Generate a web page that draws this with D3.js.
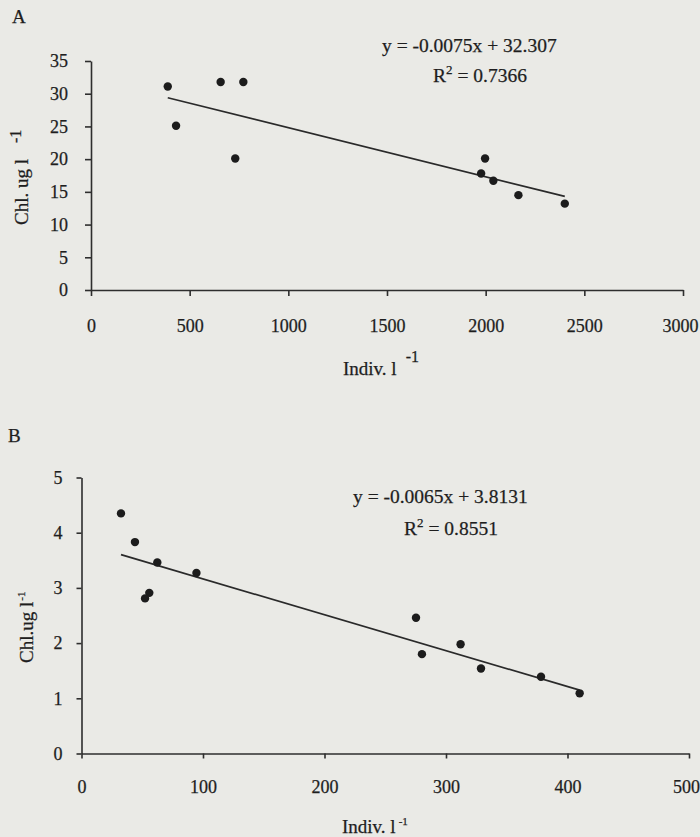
<!DOCTYPE html>
<html>
<head>
<meta charset="utf-8">
<script src="https://cdn.jsdelivr.net/npm/d3@7"></script>
<style>
  body { margin: 0; background: #eaeae6; }
  svg { display: block; font-family: "Liberation Serif", "Times New Roman", serif; }
  svg text { stroke: #1e1e1e; stroke-width: 0.25px; }
  .axis path, .axis line { stroke: #2e2e2e; stroke-width: 1.6; }
  .axis text { font-family: "Liberation Serif", serif; font-size: 18px; fill: #1e1e1e; }
</style>
</head>
<body>
<div id="canvas"></div>
<script>
// panel A data (Indiv. l-1 vs Chl. ug l-1)
var xA = [389, 431, 657, 772, 731, 1997, 1977, 2039, 2166, 2401];
var yA = [31.1, 25.1, 31.8, 31.8, 20.1, 20.1, 17.8, 16.7, 14.5, 13.2];
var xTicksA = [0, 500, 1000, 1500, 2000, 2500, 3000];
var yTicksA = [0, 5, 10, 15, 20, 25, 30, 35];
var fitA = [-0.0075, 32.307];
var eqA = "y = -0.0075x + 32.307";
var r2A = "0.7366";

// panel B data
var xB = [32.5, 44, 62.4, 94.6, 55.8, 52.3, 275.3, 280.2, 312, 328.8, 378.2, 410];
var yB = [4.35, 3.83, 3.46, 3.27, 2.91, 2.81, 2.46, 1.80, 1.98, 1.54, 1.39, 1.09];
var xTicksB = [0, 100, 200, 300, 400, 500];
var yTicksB = [0, 1, 2, 3, 4, 5];
var fitB = [-0.0065, 3.8131];
var eqB = "y = -0.0065x + 3.8131";
var r2B = "0.8551";

var svg = d3.select("#canvas").append("svg")
    .attr("width", 700)
    .attr("height", 837);

svg.append("rect").attr("width", 700).attr("height", 837).attr("fill", "#eaeae6");

function drawPanel(opt) {
  var x = d3.scaleLinear().domain(opt.xDomain).range(opt.xRange);
  var y = d3.scaleLinear().domain(opt.yDomain).range(opt.yRange);
  var g = svg.append("g");

  var xAxis = g.append("g")
      .attr("class", "axis")
      .attr("transform", "translate(0," + opt.yRange[0] + ")")
      .call(d3.axisBottom(x).tickValues(opt.xTicks).tickFormat(d3.format("d"))
        .tickSize(opt.tick).tickSizeOuter(0).tickPadding(opt.xPad));
  // last label sits against the right edge, like the original
  xAxis.selectAll(".tick text").filter(function(d) { return d === opt.xDomain[1]; })
      .attr("dx", -3);

  g.append("g")
      .attr("class", "axis")
      .attr("transform", "translate(" + opt.xRange[0] + ",0)")
      .call(d3.axisLeft(y).tickValues(opt.yTicks).tickFormat(d3.format("d"))
        .tickSize(opt.tick).tickSizeOuter(0).tickPadding(opt.yPad));

  // fitted line over the x range of the points
  var ext = d3.extent(opt.xs);
  g.append("line")
      .attr("x1", x(ext[0])).attr("y1", y(opt.fit[0] * ext[0] + opt.fit[1]))
      .attr("x2", x(ext[1])).attr("y2", y(opt.fit[0] * ext[1] + opt.fit[1]))
      .attr("stroke", "#2a2a2a")
      .attr("stroke-width", 1.7);

  g.selectAll("circle.pt")
      .data(opt.xs.map(function(d, i) { return [d, opt.ys[i]]; }))
    .enter().append("circle")
      .attr("class", "pt")
      .attr("cx", function(d) { return x(d[0]); })
      .attr("cy", function(d) { return y(d[1]); })
      .attr("r", 4.2)
      .attr("fill", "#1c1c1c");

  // equation + R2
  g.append("text")
      .attr("x", opt.eqPos[0]).attr("y", opt.eqPos[1])
      .attr("font-size", "19.5px").attr("fill", "#1e1e1e")
      .text(opt.eq);
  var r2 = g.append("text")
      .attr("x", opt.r2Pos[0]).attr("y", opt.r2Pos[1])
      .attr("font-size", "19.5px").attr("fill", "#1e1e1e");
  r2.append("tspan").text("R");
  r2.append("tspan").attr("dy", -8).attr("font-size", "13px").text("2");
  r2.append("tspan").attr("dy", 8).text(" = " + opt.r2);

  // panel letter
  g.append("text")
      .attr("x", opt.letterPos[0]).attr("y", opt.letterPos[1])
      .attr("font-size", "19px").attr("fill", "#1e1e1e")
      .text(opt.letter);

  return g;
}

var gA = drawPanel({
  xs: xA, ys: yA, fit: fitA, eq: eqA, r2: r2A,
  xDomain: [0, 3000], xRange: [91, 683],
  yDomain: [0, 35], yRange: [290, 61],
  xTicks: xTicksA, yTicks: yTicksA,
  tick: 6, xPad: 23, yPad: 17,
  eqPos: [382, 52], r2Pos: [433, 82],
  letter: "A", letterPos: [12, 23]
});

var gB = drawPanel({
  xs: xB, ys: yB, fit: fitB, eq: eqB, r2: r2B,
  xDomain: [0, 500], xRange: [81.5, 689],
  yDomain: [0, 5], yRange: [753.5, 477.5],
  xTicks: xTicksB, yTicks: yTicksB,
  tick: 5, xPad: 22, yPad: 14,
  eqPos: [353, 503], r2Pos: [404, 535],
  letter: "B", letterPos: [8, 442]
});

// axis titles, panel A
var tx = gA.append("text").attr("x", 343).attr("y", 375).attr("font-size", "19px").attr("fill", "#1e1e1e");
tx.append("tspan").text("Indiv. l");
tx.append("tspan").attr("dx", 9).attr("dy", -13).attr("font-size", "16px").text("-1");

var ty = gA.append("text").attr("transform", "translate(28,225) rotate(-90)").attr("font-size", "19px").attr("fill", "#1e1e1e");
ty.append("tspan").text("Chl. ug l");
ty.append("tspan").attr("dx", 16).attr("dy", -7).attr("font-size", "16px").text("-1");

// axis titles, panel B
var txB = gB.append("text").attr("x", 342).attr("y", 833).attr("font-size", "19px").attr("fill", "#1e1e1e");
txB.append("tspan").text("Indiv. l");
txB.append("tspan").attr("dx", 3).attr("dy", -8).attr("font-size", "11px").text("-1");

var tyB = gB.append("text").attr("transform", "translate(33,663) rotate(-90)").attr("font-size", "19px").attr("fill", "#1e1e1e");
tyB.append("tspan").text("Chl.ug l");
tyB.append("tspan").attr("dx", 1).attr("dy", -8).attr("font-size", "11px").text("-1");
</script>
</body>
</html>
